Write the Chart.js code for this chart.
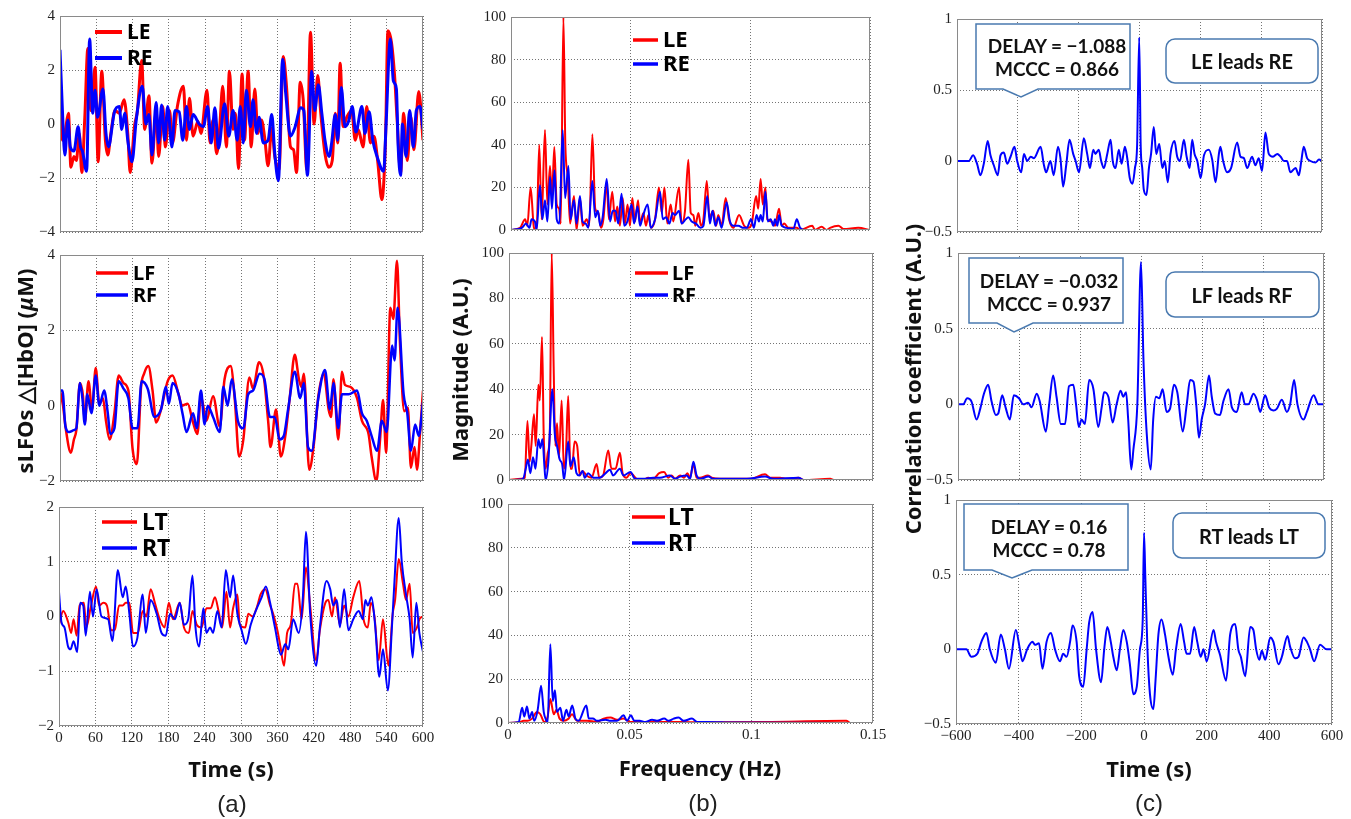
<!DOCTYPE html>
<html><head><meta charset="utf-8">
<script src="https://cdn.jsdelivr.net/npm/chart.js@4.4.1/dist/chart.umd.min.js"></script>
<style>
body{margin:0;background:#fff;width:1351px;height:819px;position:relative;overflow:hidden;font-family:"Liberation Sans",Arial,sans-serif}
canvas{position:absolute;z-index:1}
svg{position:absolute;left:0;top:0;z-index:2}
.lb{position:absolute;white-space:nowrap;color:#111;z-index:3;transform:translate(-50%,-50%);line-height:1}
.ax{font-family:"Noto Sans",sans-serif;font-weight:700;font-size:22px}
.vt{transform:translate(-50%,-50%) rotate(-90deg)}
.pl{font-family:"Liberation Sans",Arial,sans-serif;font-size:24px;color:#222}
.co{font-family:Lato,"Noto Sans",sans-serif;font-weight:700;font-size:19px;text-align:center;line-height:23px;color:#111}
.rb{font-family:Lato,"Noto Sans",sans-serif;font-weight:700;font-size:20px;color:#111}
</style></head>
<body>
<svg width="1351" height="819">
  <path d="M976 24 H1130 V89 H1038 L1021 97 L1003 89 H976 Z" fill="#fff" stroke="#4a7ab0" stroke-width="1.5"/>
  <rect x="1166" y="39" width="152" height="44" rx="9" fill="#fff" stroke="#4a7ab0" stroke-width="1.5"/>
  <path d="M969 258 H1123 V323 H1033 L1014 332 L997 323 H969 Z" fill="#fff" stroke="#4a7ab0" stroke-width="1.5"/>
  <rect x="1166" y="272" width="153" height="45" rx="9" fill="#fff" stroke="#4a7ab0" stroke-width="1.5"/>
  <path d="M964 504 H1128 V570 H1032 L1012 578 L992 570 H964 Z" fill="#fff" stroke="#4a7ab0" stroke-width="1.5"/>
  <rect x="1173" y="513" width="152" height="45" rx="9" fill="#fff" stroke="#4a7ab0" stroke-width="1.5"/>
</svg>
<div class="lb co" style="left:1057px;top:57px">DELAY = −1.088<br>MCCC = 0.866</div>
<div class="lb rb" style="left:1242px;top:61px">LE leads RE</div>
<div class="lb co" style="left:1049px;top:292px">DELAY = −0.032<br>MCCC = 0.937</div>
<div class="lb rb" style="left:1242px;top:295px">LF leads RF</div>
<div class="lb co" style="left:1049px;top:538px">DELAY = 0.16<br>MCCC = 0.78</div>
<div class="lb rb" style="left:1249px;top:536px">RT leads LT</div>

<div class="lb ax vt" style="left:24px;top:371px">sLFOs △[HbO] (<i>μ</i>M)</div>
<div class="lb ax vt" style="left:459px;top:370px">Magnitude (A.U.)</div>
<div class="lb ax vt" style="left:912px;top:379px">Correlation coefficient (A.U.)</div>
<div class="lb ax" style="left:231px;top:768px">Time (s)</div>
<div class="lb ax" style="left:700px;top:767px">Frequency (Hz)</div>
<div class="lb ax" style="left:1149px;top:768px">Time (s)</div>
<div class="lb pl" style="left:232px;top:804px">(a)</div>
<div class="lb pl" style="left:703px;top:803px">(b)</div>
<div class="lb pl" style="left:1149px;top:803px">(c)</div>

<script>
// ---------- (a) sLFO time series: [time s, ΔHbO µM] ----------
const LE = [[0,0.5],[4,-0.6],[9,-0.2],[14,0.4],[18,-1.6],[23,-1.2],[27,-1.35],[32,-0.35],[36,-1.8],[41,0.25],[46,2.8],[51,0.5],[58,2.1],[63,-1.4],[69,1.95],[75,-0.6],[79,-1.15],[84,-0.35],[91,0.5],[98,0.4],[106,0.9],[112,-0.35],[116,-1.8],[123,-0.1],[128,0.5],[135,2.35],[140,-0.2],[147,1.05],[152,-1.45],[159,0.5],[163,-1.2],[170,0.65],[174,-0.85],[181,0.5],[186,-0.7],[194,0.65],[204,1.4],[209,-0.6],[214,0.95],[220,-0.45],[228,0.1],[233,-0.35],[243,1.25],[248,-0.7],[253,0.15],[259,-1.1],[264,-0.1],[269,1.4],[275,-0.85],[280,1.95],[286,-0.2],[290,0.4],[295,-1.65],[301,1.85],[305,-0.6],[311,1.95],[316,-0.85],[322,1.3],[327,-0.35],[333,0.15],[338,-0.45],[344,-1.55],[350,-0.15],[355,-1.2],[362,-1.7],[369,2.5],[374,1.5],[381,-0.85],[386,-0.95],[391,-1.8],[397,1.55],[402,0.9],[408,-1.7],[414,3.4],[420,0.0],[426,1.8],[431,0.4],[438,-1.1],[444,-1.6],[450,-1.35],[455,0.4],[459,-0.7],[463,2.25],[468,-0.1],[474,0.25],[482,0.5],[488,-0.6],[493,-0.2],[501,-0.85],[507,0.65],[513,-0.7],[519,-0.45],[525,-1.35],[532,-2.8],[538,-0.6],[542,3.45],[548,3.0],[553,1.8],[557,0.25],[563,-1.8],[568,0.4],[574,-1.35],[580,0.25],[585,-0.95],[593,1.2],[600,-0.6]];
const RE = [[0,2.75],[4,0.5],[8,-1.15],[13,0.15],[17,-0.85],[23,-1.0],[30,-0.1],[34,-0.85],[37,-1.0],[44,-1.75],[49,3.15],[54,0.4],[58,1.25],[62,0.25],[71,1.3],[76,-0.35],[80,-0.85],[90,0.45],[98,0.65],[102,-0.2],[107,0.4],[112,-0.6],[119,-1.4],[126,0.15],[136,1.4],[142,0.0],[147,0.35],[152,-1.15],[159,0.8],[163,-0.7],[168,0.7],[173,-0.6],[178,0.65],[185,-0.85],[190,0.5],[197,0.45],[203,-0.6],[209,0.65],[214,-0.2],[220,0.35],[230,0.0],[237,-0.1],[244,0.65],[250,-0.7],[256,0.6],[262,-0.9],[272,0.75],[279,-0.45],[286,0.5],[293,-0.6],[298,0.65],[303,-0.7],[308,1.25],[315,-0.1],[319,0.9],[325,-0.35],[329,0.25],[336,-0.7],[344,-0.6],[350,0.35],[355,-1.1],[361,-2.1],[368,2.4],[373,1.15],[381,-0.45],[388,-0.15],[398,0.6],[403,0.5],[409,-1.9],[416,1.95],[421,0.5],[427,1.45],[433,0.35],[438,-0.6],[445,-1.2],[449,-0.7],[455,0.35],[459,-0.6],[465,1.35],[471,-0.1],[477,0.1],[483,0.65],[489,-0.3],[499,0.65],[504,-0.35],[511,0.45],[517,-0.6],[524,-1.2],[535,-1.75],[539,0.0],[546,3.15],[551,1.6],[556,1.3],[559,-0.85],[563,-1.9],[566,0.0],[572,-1.2],[578,0.5],[584,-0.85],[589,0.5],[595,0.65],[600,-0.2]];
const LF = [[0,0.4],[5,0.0],[9,-0.55],[18,-1.25],[23,-0.9],[27,-0.65],[33,0.6],[38,0.25],[41,-0.45],[47,0.65],[53,-0.1],[59,1.0],[65,0.05],[71,0.2],[76,-0.4],[82,-0.9],[90,-0.2],[97,0.8],[105,0.6],[113,0.4],[120,-1.15],[127,-1.55],[134,0.5],[139,0.85],[146,1.05],[153,0.4],[159,-0.45],[167,-0.1],[178,0.65],[186,0.8],[196,0.3],[202,0.0],[211,0.05],[220,-0.45],[227,-0.75],[233,0.25],[242,-0.4],[253,0.25],[264,-0.55],[272,0.7],[282,1.05],[289,0.15],[296,-1.35],[303,-0.9],[313,0.75],[319,0.45],[329,1.15],[337,0.75],[344,-0.4],[348,-1.1],[357,-0.1],[365,-1.35],[372,-0.85],[380,0.25],[388,1.35],[395,0.7],[399,0.5],[403,0.85],[412,-1.7],[419,-1.1],[427,0.25],[436,0.85],[444,-0.1],[448,-0.3],[452,0.7],[460,-0.9],[466,0.9],[471,0.55],[480,0.5],[491,0.2],[499,-0.4],[510,-0.75],[515,-1.35],[523,-2.0],[529,-0.9],[534,0.15],[539,-1.25],[546,2.6],[551,2.3],[557,3.85],[562,1.65],[569,-0.15],[575,-0.05],[580,-1.65],[586,-1.1],[590,-1.7],[595,-0.75],[600,0.4]];
const RF = [[0,0.4],[4,0.4],[9,-0.55],[15,-0.7],[23,-0.65],[27,-0.6],[33,0.6],[37,0.2],[41,-0.5],[45,0.3],[52,-0.2],[59,0.8],[65,0.0],[73,0.4],[79,-0.2],[83,-0.75],[90,-0.6],[97,0.65],[105,0.45],[113,0.2],[120,-0.6],[128,-0.6],[135,0.65],[145,0.45],[156,-0.3],[167,-0.1],[175,0.5],[180,0.05],[186,0.6],[196,0.3],[203,-0.25],[209,-0.7],[220,-0.2],[226,-0.6],[233,0.4],[239,-0.5],[244,0.0],[253,-0.3],[264,-0.7],[270,0.5],[277,0.0],[284,0.7],[294,-0.4],[303,-0.6],[311,0.3],[319,0.4],[330,0.85],[338,0.7],[347,-0.3],[355,-0.3],[363,-0.9],[370,-0.8],[377,-0.1],[388,0.9],[397,0.2],[403,0.6],[410,-1.1],[416,-1.2],[427,0.2],[438,0.95],[446,-0.1],[452,0.6],[460,-0.6],[466,0.3],[477,0.3],[491,0.4],[499,-0.2],[507,-0.4],[515,-0.8],[524,-1.2],[532,-0.4],[540,-0.7],[549,1.6],[553,1.2],[558,2.6],[568,0.3],[574,-0.2],[580,-1.2],[587,-0.5],[593,-0.8],[600,0.1]];
const LT = [[0,-0.15],[7,0.1],[15,-0.1],[20,-0.3],[24,-0.05],[29,-0.35],[34,0.2],[41,0.25],[45,-0.2],[52,0.15],[61,0.55],[66,0.2],[73,0.25],[79,0.2],[86,-0.25],[92,-0.25],[99,0.2],[105,0.2],[110,0.25],[116,0.25],[122,-0.3],[130,-0.3],[138,0.1],[144,0.0],[151,0.5],[158,0.25],[166,-0.05],[174,-0.2],[181,0.25],[188,-0.05],[199,0.25],[206,-0.2],[214,-0.3],[220,0.1],[227,-0.15],[235,-0.2],[243,0.15],[250,0.15],[257,0.35],[263,0.1],[269,-0.2],[276,0.45],[282,-0.2],[287,0.15],[294,0.4],[298,-0.15],[307,-0.2],[312,0.05],[319,0.0],[327,0.2],[332,0.4],[340,0.5],[348,0.2],[353,0.05],[360,-0.25],[365,-0.55],[371,-0.9],[376,-0.3],[382,-0.15],[389,0.6],[393,0.6],[400,-0.05],[407,0.9],[414,0.2],[424,-0.8],[430,-0.25],[439,0.25],[444,0.3],[450,0.0],[455,0.35],[463,-0.15],[470,0.2],[477,0.0],[485,0.35],[495,0.65],[502,-0.05],[509,-0.2],[514,0.25],[520,0.0],[527,-0.8],[534,-0.05],[543,-0.9],[550,0.05],[554,0.3],[560,1.05],[567,0.6],[572,0.3],[578,0.6],[583,-0.3],[590,-0.2],[594,-0.05],[600,0.0]];
const RT = [[0,0.45],[4,-0.1],[9,-0.2],[15,-0.55],[19,-0.6],[24,-0.45],[30,-0.65],[35,0.25],[40,0.2],[44,-0.35],[51,0.45],[56,0.0],[62,0.5],[70,0.0],[81,-0.05],[88,-0.45],[97,0.85],[105,0.35],[110,0.55],[116,0.05],[122,-0.55],[129,-0.4],[138,0.4],[143,-0.3],[151,0.3],[161,0.05],[169,-0.3],[176,-0.35],[183,0.05],[191,-0.05],[199,0.25],[206,-0.15],[213,-0.05],[220,0.75],[225,-0.2],[231,-0.55],[238,0.15],[243,-0.3],[249,-0.2],[254,-0.3],[261,0.1],[268,-0.2],[275,0.85],[282,0.35],[287,0.75],[294,0.05],[301,-0.25],[308,-0.5],[316,-0.15],[326,0.15],[334,0.35],[341,0.55],[348,0.25],[356,-0.2],[366,-0.7],[373,-0.5],[378,-0.6],[386,-0.05],[395,-0.3],[402,0.35],[407,1.55],[414,0.05],[424,-0.9],[430,-0.2],[441,0.65],[447,0.5],[452,0.2],[458,0.3],[463,-0.2],[470,0.5],[477,-0.25],[485,-0.05],[494,0.1],[501,-0.05],[505,0.3],[509,0.2],[515,0.35],[521,-0.15],[528,-1.1],[534,-0.6],[542,-1.35],[549,-0.15],[553,0.65],[560,1.8],[565,1.0],[572,0.4],[578,-0.05],[583,-0.75],[589,0.25],[594,-0.3],[600,-0.65]];

// ---------- (b) magnitude spectra: [frequency Hz, magnitude A.U.] ----------
const specLE = [[0,0],[0.0038,1],[0.0059,5],[0.0068,2],[0.0082,20],[0.0096,1],[0.0107,0],[0.0118,40],[0.0128,5],[0.0142,47],[0.0152,12],[0.0163,30],[0.0171,15],[0.0181,39],[0.0191,12],[0.0201,10],[0.0208,3],[0.0219,100],[0.0227,40],[0.0237,25],[0.0247,3],[0.0263,16],[0.0274,0],[0.0288,15],[0.0299,2],[0.0316,5],[0.0327,2],[0.034,45],[0.0352,10],[0.0365,8],[0.0376,1],[0.0386,5],[0.04,22],[0.0409,5],[0.0423,18],[0.0435,4],[0.0444,11],[0.0455,2],[0.0467,15],[0.0476,3],[0.0487,12],[0.0497,2],[0.0507,15],[0.0518,4],[0.0531,14],[0.0539,3],[0.0553,8],[0.0564,2],[0.0574,7],[0.0585,1],[0.0602,5],[0.0618,20],[0.063,8],[0.0641,20],[0.0653,3],[0.0667,12],[0.0678,4],[0.0702,20],[0.0713,3],[0.0727,9],[0.0741,33],[0.0751,8],[0.0762,7],[0.077,2],[0.0783,8],[0.0794,2],[0.0804,5],[0.0818,23],[0.0829,6],[0.0845,9],[0.0857,2],[0.0866,7],[0.088,2],[0.0897,15],[0.0911,5],[0.0929,1],[0.0953,7],[0.0974,2],[0.0992,1],[0.1006,3],[0.1024,16],[0.1033,10],[0.1043,24],[0.1052,12],[0.1063,20],[0.1071,5],[0.1089,4],[0.1103,2],[0.112,10],[0.1131,2],[0.1142,3],[0.1159,1],[0.1194,1],[0.1208,0],[0.1259,2],[0.127,0],[0.1298,1.5],[0.1319,0],[0.1333,1],[0.1368,2],[0.1389,0.5],[0.1451,1],[0.15,0]];
const specRE = [[0,0],[0.0045,1],[0.0063,3],[0.0077,1],[0.0086,5],[0.01,4],[0.0107,0],[0.0121,21],[0.0131,5],[0.0142,14],[0.0152,4],[0.0163,25],[0.0171,10],[0.0182,28],[0.0191,5],[0.0202,3],[0.0216,47],[0.0226,15],[0.024,30],[0.0249,5],[0.0263,14],[0.0274,3],[0.0288,16],[0.0299,4],[0.0312,3],[0.0323,1],[0.034,23],[0.0352,6],[0.0363,9],[0.0373,2],[0.0383,6],[0.04,24],[0.0414,4],[0.0425,9],[0.0437,9],[0.0448,3],[0.0462,17],[0.0473,2],[0.0486,4],[0.0504,12],[0.0514,3],[0.0529,11],[0.0539,2],[0.055,6],[0.0571,12],[0.0584,1],[0.0602,5],[0.0623,18],[0.0634,5],[0.0648,6],[0.0662,3],[0.0675,8],[0.0685,7],[0.0702,9],[0.0713,3],[0.073,5],[0.0741,6],[0.0755,4],[0.0773,3],[0.0792,1],[0.0804,2],[0.082,16],[0.0831,3],[0.0842,9],[0.0854,2],[0.0866,6],[0.088,1],[0.0901,13],[0.0915,4],[0.0929,2],[0.095,2],[0.0971,1],[0.0985,1],[0.1003,5],[0.1015,1],[0.1026,7],[0.1036,4],[0.1043,7],[0.1052,4],[0.1063,18],[0.1073,4],[0.1085,5],[0.1096,2],[0.1103,5],[0.1113,2],[0.112,7],[0.1131,2],[0.1152,1],[0.118,0.5],[0.1194,5],[0.1208,1],[0.1228,0],[0.15,0]];
const specLF = [[0,0],[0.0051,0.5],[0.0065,1],[0.0076,26],[0.0085,8],[0.0092,15],[0.0103,29],[0.011,15],[0.0121,42],[0.0127,35],[0.0136,63],[0.0143,20],[0.0151,5],[0.016,12],[0.0168,20],[0.0176,100],[0.0184,50],[0.0191,15],[0.0198,25],[0.0206,10],[0.0217,35],[0.0226,5],[0.0234,10],[0.0244,37],[0.0253,5],[0.026,5],[0.027,17],[0.0281,15],[0.0292,2],[0.0303,4],[0.0319,2],[0.034,1],[0.0361,7],[0.0372,1],[0.0388,2],[0.0409,13],[0.0422,5],[0.0439,5],[0.0457,12],[0.0468,3],[0.0484,1],[0.0501,3],[0.0526,0.5],[0.0553,0],[0.0574,1],[0.0594,0.5],[0.0619,3],[0.0639,3.5],[0.0656,1],[0.067,2],[0.0684,0.5],[0.0705,2],[0.0721,1],[0.0735,3],[0.0746,1],[0.076,7],[0.0773,1],[0.0787,1],[0.0819,2],[0.0835,1],[0.087,0.5],[0.0952,0.5],[0.0994,0.5],[0.1055,2.5],[0.1076,1],[0.1117,1],[0.1145,0.5],[0.1193,1],[0.1214,0],[0.1324,0.5],[0.1338,0],[0.15,0]];
const specRF = [[0,0],[0.0058,0.5],[0.0069,5],[0.0078,9],[0.0088,3],[0.0099,10],[0.0109,5],[0.0121,18],[0.0129,14],[0.0138,18],[0.0146,6],[0.0151,0],[0.0162,8],[0.0179,40],[0.0189,20],[0.0198,15],[0.0209,9],[0.0219,7],[0.0227,0],[0.0244,17],[0.0253,6],[0.0267,10],[0.0278,3],[0.0289,2],[0.0303,4],[0.0312,1],[0.0326,3],[0.0347,1],[0.0374,1],[0.0398,3],[0.0416,4.5],[0.0429,2],[0.0457,5],[0.0471,2],[0.0501,3.5],[0.0519,0.5],[0.0553,0.5],[0.0594,1],[0.0622,1],[0.0663,2],[0.0684,0.5],[0.0705,1.5],[0.0732,2],[0.0746,0.5],[0.076,8],[0.0773,2],[0.0787,0.5],[0.0822,1.5],[0.0842,0.5],[0.0925,0.5],[0.098,0.5],[0.1055,1.5],[0.109,0.5],[0.1193,1],[0.1214,0],[0.15,0]];
const specLT = [[0,0],[0.0051,0.5],[0.0064,1],[0.0081,1],[0.0099,2],[0.0119,5],[0.0133,4],[0.0149,0.5],[0.0163,3],[0.0174,11],[0.0188,4],[0.0199,6],[0.0212,2],[0.0229,1],[0.0249,2],[0.0263,4],[0.0284,1],[0.0325,1],[0.0366,0.5],[0.0393,2],[0.0421,2.5],[0.0448,1.5],[0.0473,2],[0.0503,0.5],[0.0544,0.5],[0.0612,0.5],[0.0681,0.5],[0.0763,0.3],[0.1058,0.5],[0.139,1],[0.1407,0],[0.15,0]];
const specRT = [[0,0],[0.0044,0.5],[0.0058,7],[0.0067,3],[0.0078,7.5],[0.0088,2],[0.0099,5],[0.0108,1],[0.0122,6],[0.0136,17],[0.0147,5],[0.0158,1],[0.0163,0],[0.0174,36],[0.0184,10],[0.0193,15],[0.0201,5],[0.0215,7],[0.0226,1],[0.024,6],[0.0249,3],[0.0264,8],[0.0277,2],[0.029,1],[0.0322,8],[0.0332,2],[0.0349,2],[0.0366,1],[0.04,1.5],[0.0421,1],[0.0448,1],[0.0475,3.5],[0.0489,1],[0.0505,3.5],[0.0519,1],[0.0541,1],[0.0564,0.5],[0.0592,1.5],[0.0612,1],[0.0642,2],[0.066,1],[0.0681,2],[0.0701,2.5],[0.0722,1],[0.0756,2],[0.0777,0.5],[0.0818,0.5],[0.0927,0.2],[0.15,0]];

// ---------- (c) cross-correlation: [lag s, coefficient A.U.] ----------
const ccE = [[-600,0],[-561,0],[-547,0.04],[-534,-0.02],[-523,-0.1],[-512,-0.02],[-499,0.14],[-490,0.04],[-479,-0.03],[-466,-0.1],[-457,0.04],[-446,0.06],[-435,-0.02],[-424,0.03],[-411,0.1],[-402,0.0],[-389,-0.08],[-380,0.05],[-369,0.0],[-358,0.03],[-347,0.02],[-325,0.1],[-315,-0.02],[-307,-0.08],[-293,0.0],[-282,-0.1],[-268,0.1],[-260,0.02],[-251,-0.18],[-241,-0.03],[-230,0.15],[-218,0.05],[-210,0.0],[-199,-0.08],[-183,0.16],[-172,0.05],[-163,-0.05],[-152,0.08],[-145,0.05],[-134,0.08],[-126,0.0],[-117,-0.05],[-106,0.05],[-95,0.15],[-88,0.0],[-79,-0.05],[-68,0.08],[-59,-0.02],[-48,0.1],[-41,0.03],[-32,-0.12],[-23,-0.16],[-15,-0.05],[-8,0.1],[-1,0.87],[4,0.1],[9,-0.05],[14,-0.2],[23,-0.24],[31,-0.05],[38,0.05],[47,0.24],[55,0.05],[65,0.12],[75,-0.05],[83,0.0],[93,-0.15],[102,0.05],[115,0.14],[124,0.03],[133,0.0],[146,0.15],[155,0.03],[165,-0.05],[173,0.15],[181,0.05],[190,0.0],[201,-0.12],[212,0.04],[228,0.08],[239,0.01],[250,-0.15],[261,0.05],[266,0.1],[275,0.0],[288,-0.08],[301,-0.05],[321,0.13],[332,0.03],[343,0.02],[354,-0.05],[370,0.03],[381,-0.03],[392,0.02],[403,-0.07],[414,0.2],[425,0.05],[439,0.03],[453,0.05],[464,0.03],[475,0.0],[485,0.0],[496,-0.08],[513,-0.05],[524,-0.1],[532,0.0],[540,0.1],[551,0.02],[562,0.0],[579,-0.01],[590,0.01],[600,0]];
const ccF = [[-600,0],[-583,0.0],[-570,0.04],[-556,0.02],[-539,-0.1],[-526,-0.02],[-515,0.07],[-501,0.13],[-490,0.02],[-476,-0.07],[-468,-0.06],[-455,0.06],[-444,-0.02],[-430,-0.1],[-417,0.06],[-400,0.04],[-386,0.0],[-370,0.01],[-359,-0.02],[-342,0.07],[-332,0.02],[-312,-0.18],[-301,0.0],[-288,0.19],[-277,0.05],[-263,-0.13],[-249,-0.13],[-236,0.12],[-222,0.13],[-213,0.0],[-204,-0.15],[-195,-0.1],[-184,-0.13],[-170,0.16],[-156,0.1],[-140,-0.15],[-129,-0.02],[-121,0.08],[-107,0.05],[-93,-0.12],[-80,0.0],[-67,0.09],[-58,0.05],[-49,0.08],[-42,-0.1],[-32,-0.43],[-25,-0.3],[-12,0.0],[0,0.94],[8,0.3],[19,-0.2],[32,-0.43],[40,-0.1],[49,0.05],[60,0.04],[71,0.1],[84,-0.05],[95,-0.03],[108,0.13],[119,0.08],[137,-0.18],[150,0.0],[161,0.16],[172,0.15],[181,0.0],[190,-0.22],[199,-0.1],[210,0.0],[223,0.19],[232,0.05],[243,-0.06],[259,-0.07],[270,0.02],[287,0.1],[298,-0.02],[314,-0.05],[330,0.08],[341,0.0],[352,0.0],[369,0.07],[380,0.03],[391,-0.05],[407,0.06],[420,-0.02],[434,-0.04],[445,-0.03],[462,0.03],[478,-0.05],[489,0.0],[502,0.16],[513,0.0],[533,-0.1],[544,-0.05],[566,0.06],[582,0.0],[600,0.0]];
const ccT = [[-600,0],[-567,0.0],[-551,-0.05],[-532,-0.03],[-519,0.05],[-503,0.11],[-492,0.0],[-473,-0.09],[-457,0.1],[-444,0.0],[-431,-0.13],[-409,0.13],[-396,0.0],[-388,-0.08],[-373,0.0],[-356,0.05],[-348,0.03],[-335,0.04],[-324,-0.13],[-311,0.05],[-297,0.11],[-284,0.0],[-268,-0.08],[-258,-0.03],[-247,-0.05],[-236,0.05],[-228,0.16],[-215,0.05],[-207,-0.18],[-194,-0.25],[-183,0.0],[-175,0.18],[-164,0.25],[-153,0.0],[-137,-0.22],[-127,0.0],[-117,0.15],[-106,0.05],[-98,-0.05],[-87,-0.14],[-77,0.0],[-66,0.13],[-55,0.05],[-45,-0.1],[-34,-0.3],[-23,-0.25],[-13,0.0],[-4,0.2],[0,0.78],[4,0.5],[11,0.0],[19,-0.3],[30,-0.4],[37,-0.2],[46,0.1],[56,0.2],[67,0.1],[78,-0.05],[92,-0.17],[102,0.0],[117,0.17],[128,0.05],[136,-0.03],[147,-0.03],[160,0.15],[170,0.05],[181,-0.05],[190,0.0],[200,-0.08],[222,0.13],[230,0.05],[243,-0.04],[262,-0.21],[275,0.1],[291,0.17],[301,0.0],[309,-0.05],[323,-0.18],[339,0.15],[349,0.13],[358,0.0],[368,-0.07],[376,-0.01],[387,-0.07],[403,0.08],[413,0.05],[429,-0.1],[440,-0.05],[458,0.09],[466,0.02],[482,-0.06],[493,-0.05],[509,0.08],[520,0.05],[530,0.0],[543,-0.08],[562,0.03],[583,0.0],[600,0.0]];

// ---------- axis settings ----------
const timeAxis = {min:0, max:600, step:60};
const freqAxis = {min:0, max:0.15, step:0.05};
const lagAxis  = {min:-600, max:600, step:200};

const RED = '#ff0000', BLUE = '#0000ff';
const PAD = {l:56, t:14, r:28, b:30};
const TICK_FONT = {family:'"Liberation Serif","Times New Roman",serif', size:15};
const fmt = v => String(+(+v).toFixed(3)).replace('-', '\u2212');

const framePlugin = {
  id:'frame',
  afterDatasetsDraw(chart, args, opts){
    const {ctx, chartArea:a} = chart;
    ctx.save();
    ctx.strokeStyle = '#8a8a8a'; ctx.lineWidth = 1;
    ctx.strokeRect(Math.round(a.left)+0.5, Math.round(a.top)+0.5, Math.round(a.right-a.left)-1, Math.round(a.bottom-a.top)-1);
    const lg = opts.legend;
    if (lg) {
      chart.data.datasets.forEach((ds,i)=>{
        const y = a.top + lg.dy + i*lg.gap;
        ctx.strokeStyle = ds.borderColor; ctx.lineWidth = lg.lw; ctx.lineCap='butt';
        ctx.beginPath(); ctx.moveTo(a.left+lg.x0, y); ctx.lineTo(a.left+lg.x1, y); ctx.stroke();
        ctx.fillStyle = '#000'; ctx.font = 'bold '+lg.fs+'px "Noto Sans"'; ctx.textBaseline = 'middle'; ctx.textAlign='left';
        ctx.fillText(ds.label, a.left+lg.tx, y+1);
      });
    }
    ctx.restore();
  }
};

function panel(p){
  const c = document.createElement('canvas');
  const W = p.box.r - p.box.l + PAD.l + PAD.r;
  const H = p.box.b - p.box.t + PAD.t + PAD.b;
  c.width = W; c.height = H;
  c.style.left = (p.box.l - PAD.l)+'px'; c.style.top = (p.box.t - PAD.t)+'px';
  c.style.width = W+'px'; c.style.height = H+'px';
  document.body.appendChild(c);
  const grid = {color:'rgba(70,70,70,0.75)', lineWidth:1, drawTicks:false};
  new Chart(c, {
    type:'line',
    data:{datasets:p.series.map((s,i)=>({
      label:s.label, data:s.data.map(d=>({x:d[0], y:d[1]})),
      borderColor:s.color, borderWidth:p.lw, pointRadius:0, fill:false,
      cubicInterpolationMode:'monotone', order: p.series.length - i
    }))},
    options:{
      responsive:false, animation:false, devicePixelRatio:1,
      layout:{padding:{top:PAD.t, right:PAD.r, left:0, bottom:0}},
      events:[],
      plugins:{legend:{display:false}, tooltip:{enabled:false}, frame:{legend:p.legend}},
      scales:{
        x:{type:'linear', min:p.x.min, max:p.x.max,
           ticks:{stepSize:p.x.step, display:p.xlabels, font:TICK_FONT, color:'#222', padding:3, maxRotation:0, autoSkip:false, callback:fmt},
           grid:grid, border:{display:false, dash:[1,2]},
           afterFit(s){ s.height = PAD.b; s.paddingLeft = 0; s.paddingRight = 0; }},
        y:{type:'linear', min:p.y.min, max:p.y.max,
           ticks:{stepSize:p.y.step, font:TICK_FONT, color:'#222', padding:5, autoSkip:false, callback:fmt},
           grid:grid, border:{display:false, dash:[1,2]},
           afterFit(s){ s.width = PAD.l; s.paddingTop = 0; s.paddingBottom = 0; }}
      }
    },
    plugins:[framePlugin]
  });
}

const panels = [
  {box:{l:60,t:16,r:423,b:232}, x:timeAxis, y:{min:-4,max:4,step:2}, xlabels:false, lw:3,
   series:[{label:'LE',data:LE,color:RED},{label:'RE',data:RE,color:BLUE}],
   legend:{x0:35,x1:62,tx:67,dy:16,gap:26,fs:21,lw:4}},
  {box:{l:60,t:255,r:423,b:481}, x:timeAxis, y:{min:-2,max:4,step:2}, xlabels:false, lw:2.5,
   series:[{label:'LF',data:LF,color:RED},{label:'RF',data:RF,color:BLUE}],
   legend:{x0:36,x1:68,tx:73,dy:18,gap:22,fs:20,lw:3.5}},
  {box:{l:59,t:507,r:423,b:726}, x:timeAxis, y:{min:-2,max:2,step:1}, xlabels:true, lw:2,
   series:[{label:'LT',data:LT,color:RED},{label:'RT',data:RT,color:BLUE}],
   legend:{x0:43,x1:78,tx:83,dy:15,gap:26,fs:23,lw:3.5}},
  {box:{l:511,t:17,r:870,b:230}, x:freqAxis, y:{min:0,max:100,step:20}, xlabels:false, lw:2,
   series:[{label:'LE',data:specLE,color:RED},{label:'RE',data:specRE,color:BLUE}],
   legend:{x0:122,x1:147,tx:152,dy:23,gap:24,fs:22,lw:3.5}},
  {box:{l:509,t:253,r:873,b:480}, x:freqAxis, y:{min:0,max:100,step:20}, xlabels:false, lw:2,
   series:[{label:'LF',data:specLF,color:RED},{label:'RF',data:specRF,color:BLUE}],
   legend:{x0:126,x1:159,tx:163,dy:20,gap:22,fs:20,lw:3.5}},
  {box:{l:508,t:504,r:873,b:723}, x:freqAxis, y:{min:0,max:100,step:20}, xlabels:true, lw:2,
   series:[{label:'LT',data:specLT,color:RED},{label:'RT',data:specRT,color:BLUE}],
   legend:{x0:124,x1:157,tx:160,dy:13,gap:26,fs:23,lw:3.5}},
  {box:{l:957,t:19,r:1322,b:232}, x:lagAxis, y:{min:-0.5,max:1,step:0.5}, xlabels:false, lw:2,
   series:[{label:'LE–RE',data:ccE,color:BLUE}]},
  {box:{l:958,t:253,r:1324,b:480}, x:lagAxis, y:{min:-0.5,max:1,step:0.5}, xlabels:false, lw:2,
   series:[{label:'LF–RF',data:ccF,color:BLUE}]},
  {box:{l:956,t:500,r:1332,b:724}, x:lagAxis, y:{min:-0.5,max:1,step:0.5}, xlabels:true, lw:2,
   series:[{label:'LT–RT',data:ccT,color:BLUE}]}
];
panels.forEach(panel);
</script>
</body></html>
